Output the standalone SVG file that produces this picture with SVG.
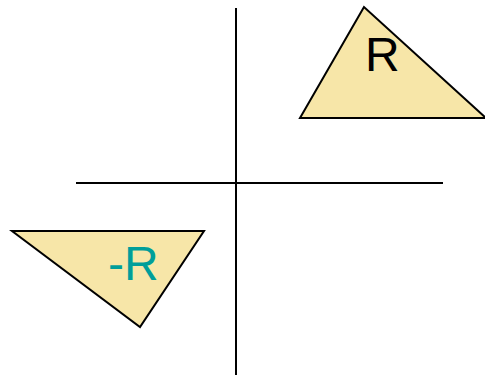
<svg xmlns="http://www.w3.org/2000/svg" width="485" height="377" viewBox="0 0 485 377">
<style>
.tri{fill:#F7E6A8;stroke:#000;stroke-width:2;stroke-linejoin:miter}
.axis{stroke:#000;stroke-width:2}
.lbl{font-family:"Liberation Sans",Arial,sans-serif;font-size:48px}
</style>
<rect width="485" height="377" fill="#fff"/>
<g id="axes">
<line class="axis" x1="236" y1="8" x2="236" y2="375"/>
<line class="axis" x1="76" y1="183" x2="443" y2="183"/>
</g>
<g id="R">
<polygon class="tri" points="364,7 300,118 486,118"/>
<text class="lbl" x="365" y="71" fill="#000">R</text>
</g>
<g id="negR">
<polygon class="tri" points="12,231 204,231 140,327"/>
<text class="lbl" x="108" y="280" fill="#009E9A" font-size="53">-R</text>
</g>
</svg>
